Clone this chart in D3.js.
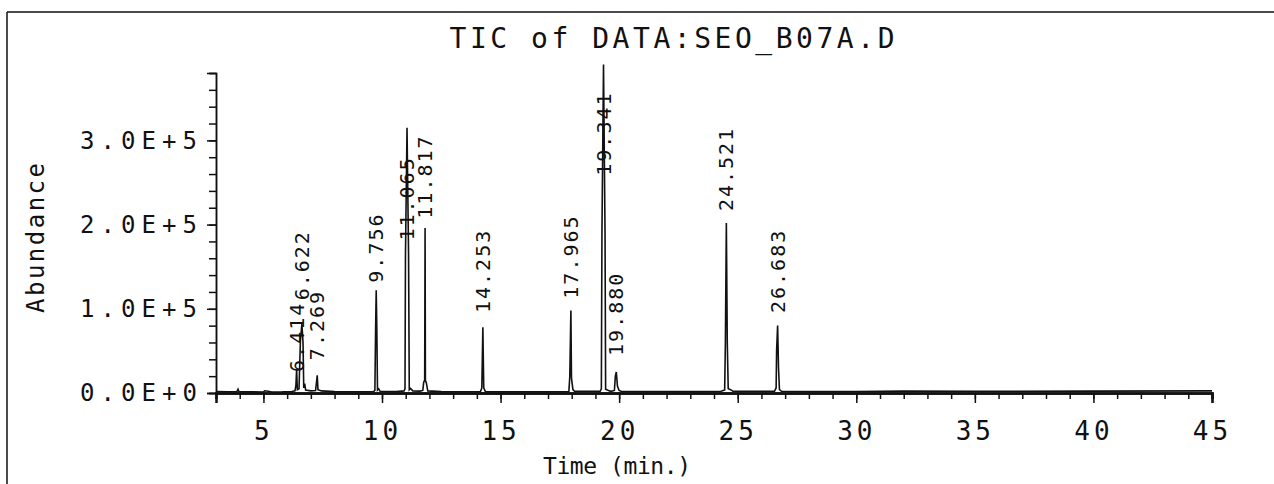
<!DOCTYPE html>
<html><head><meta charset="utf-8">
<script src="https://cdn.jsdelivr.net/npm/d3@7/dist/d3.min.js"></script>
<style>html,body{margin:0;padding:0;background:#fff;} svg{display:block}</style>
</head><body>
<svg id="chart" width="1274" height="484"></svg>
<script>
// ---- data ----
const titleText = "TIC of DATA:SEO_B07A.D";
const xLabel = "Time (min.)";
const yLabel = "Abundance";
const xDomain = [3, 45];
const yDomain = [0, 380000];
const xMajorTicks = [5, 10, 15, 20, 25, 30, 35, 40, 45];
const xMinorTicks = [4,5,6,7,8,9,10,11,12,13,14,15,16,17,18,19,20,21,22,23,24,25,26,27,28,29,30,31,32,33,34,35,36,37,38,39,40,41,42,43,44,45];
const yMajorTicks = [0, 100000, 200000, 300000];
const yTickLabels = ["0.0E+0", "1.0E+5", "2.0E+5", "3.0E+5"];
const yMinorTicks = [0,20000,40000,60000,80000,100000,120000,140000,160000,180000,200000,220000,240000,260000,280000,300000,320000,340000,360000,380000];

// labelled peaks: retention time, label text, abundance where the label starts
const peakTimes  = [6.414, 6.622, 7.269, 9.756, 11.065, 11.817, 14.253, 17.965, 19.341, 19.880, 24.521, 26.683];
const peakLabels = ["6.414", "6.622", "7.269", "9.756", "11.065", "11.817", "14.253", "17.965", "19.341", "19.880", "24.521", "26.683"];
const labelBase  = [25000, 110000, 39000, 131000, 181000, 207000, 95000, 112000, 258000, 44000, 216000, 95000];

// total ion current trace [time (min), abundance]
const trace = [
  [3.0,1800],[3.5,1500],[3.88,1600],[3.93,4500],[3.97,1400],[4.6,1300],[5.0,1100],[5.05,2600],[5.2,2000],[5.35,1200],
  [5.8,1300],[6.2,1800],[6.33,2500],[6.37,9000],[6.40,28000],[6.43,4000],[6.50,5000],[6.56,62000],[6.622,82000],[6.67,60000],
  [6.70,6000],[6.74,11000],[6.78,3500],[7.0,2500],[7.2,3000],[7.25,16000],[7.269,21000],[7.30,4000],[7.45,2500],[8.0,1600],
  [9.0,1500],[9.65,1800],[9.70,3000],[9.73,75000],[9.756,122000],[9.78,80000],[9.81,3500],[9.86,5000],[9.92,2000],[10.6,1600],
  [10.93,2500],[10.97,5000],[10.99,165000],[11.055,315000],[11.12,165000],[11.15,4000],[11.2,5500],[11.3,2500],[11.6,2200],
  [11.72,3000],[11.76,13000],[11.80,15000],[11.817,196000],[11.83,15000],[11.87,12000],[11.93,2500],[12.5,1600],[13.5,1500],
  [14.15,1600],[14.21,6000],[14.253,78000],[14.29,6000],[14.36,1600],[15.5,1500],[17.0,1500],
  [17.88,1800],[17.92,20000],[17.965,98000],[17.99,18000],[18.05,4000],[18.12,2000],
  [19.2,2000],[19.25,5000],[19.275,190000],[19.341,390000],[19.405,190000],[19.43,4500],[19.55,3000],[19.65,2000],
  [19.80,3000],[19.84,20000],[19.88,25000],[19.93,8000],[20.0,3000],[20.1,1800],[22.0,1600],[24.0,1800],
  [24.3,2000],[24.45,3500],[24.48,60000],[24.521,202000],[24.56,60000],[24.6,5000],[24.7,4000],[24.8,2000],
  [26.55,2000],[26.62,6000],[26.64,50000],[26.683,80000],[26.72,30000],[26.76,4000],[26.85,2000],
  [28.0,1600],[30.0,1800],[32.0,2200],[35.0,2000],[40.0,2200],[45.0,2500]
];

// ---- drawing ----
const svg = d3.select("#chart");
const FONT = "'DejaVu Sans Mono', monospace";
const ink = "#111";

const x = d3.scaleLinear().domain(xDomain).range([216, 1212]);
const y = d3.scaleLinear().domain(yDomain).range([393, 73]);

// frame
svg.append("line").attr("x1", 7).attr("x2", 1274).attr("y1", 12).attr("y2", 12).attr("stroke", ink).attr("stroke-width", 1.5);
svg.append("line").attr("x1", 7).attr("x2", 7).attr("y1", 12).attr("y2", 484).attr("stroke", ink).attr("stroke-width", 1.5);

// title
svg.append("text").attr("x", 672).attr("y", 48).attr("text-anchor", "middle")
  .attr("font-family", FONT).attr("font-size", 28).attr("fill", ink)
  .attr("textLength", 445).attr("lengthAdjust", "spacing").text(titleText);

// x axis
const gxMinor = svg.append("g").attr("transform", `translate(0,${y(0)})`)
  .call(d3.axisBottom(x).tickValues(xMinorTicks).tickSize(6).tickFormat(""));
const gx = svg.append("g").attr("transform", `translate(0,${y(0)})`)
  .call(d3.axisBottom(x).tickValues(xMajorTicks).tickSize(10).tickPadding(37).tickFormat(d3.format("d")));
[gxMinor, gx].forEach(g => { g.select(".domain").attr("stroke", ink).attr("stroke-width", 2.5); g.selectAll(".tick line").attr("stroke", ink).attr("stroke-width", 1.5); });
gx.selectAll(".tick text").attr("font-family", FONT).attr("font-size", 26).attr("fill", ink).attr("letter-spacing", 4).attr("dy", "0");

// y axis
const gyMinor = svg.append("g").attr("transform", `translate(${x(xDomain[0])},0)`)
  .call(d3.axisLeft(y).tickValues(yMinorTicks).tickSize(7).tickFormat(""));
const gy = svg.append("g").attr("transform", `translate(${x(xDomain[0])},0)`)
  .call(d3.axisLeft(y).tickValues(yMajorTicks).tickSize(9).tickPadding(10).tickFormat((d, i) => yTickLabels[i]));
[gyMinor, gy].forEach(g => { g.select(".domain").attr("stroke", ink).attr("stroke-width", 1.5); g.selectAll(".tick line").attr("stroke", ink).attr("stroke-width", 1.5); });
gy.selectAll(".tick text").attr("font-family", FONT).attr("font-size", 24).attr("fill", ink)
  .attr("textLength", 117).attr("lengthAdjust", "spacing");

// axis titles
svg.append("text").attr("x", 617).attr("y", 474).attr("text-anchor", "middle")
  .attr("font-family", FONT).attr("font-size", 23).attr("fill", ink)
  .attr("textLength", 148).attr("lengthAdjust", "spacing").text(xLabel);
svg.append("text").attr("transform", "translate(44,238) rotate(-90)").attr("text-anchor", "middle")
  .attr("font-family", FONT).attr("font-size", 24).attr("fill", ink)
  .attr("textLength", 150).attr("lengthAdjust", "spacing").text(yLabel);

// trace
svg.append("path").datum(trace)
  .attr("d", d3.line().x(d => x(d[0])).y(d => y(d[1])))
  .attr("fill", "none").attr("stroke", ink).attr("stroke-width", 1.6).attr("stroke-linejoin", "miter");

// peak labels
svg.append("g").selectAll("text").data(peakTimes).join("text")
  .attr("transform", (d, i) => `translate(${x(d) + 7},${y(labelBase[i])}) rotate(-90)`)
  .attr("font-family", FONT).attr("font-size", 20).attr("fill", ink)
  .attr("letter-spacing", 2)
  .text((d, i) => peakLabels[i]);
</script>
</body></html>
